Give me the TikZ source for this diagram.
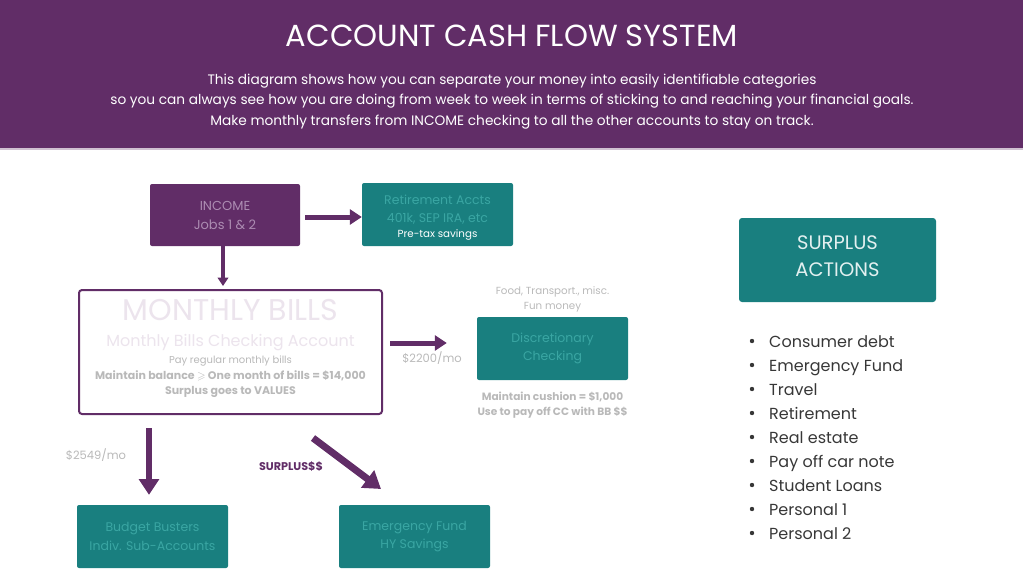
\documentclass[tikz,border=0pt]{standalone}
\usepackage{fontspec}
\setmainfont{Poppins}
\usepackage{amssymb}
\usetikzlibrary{positioning,arrows.meta}
\definecolor{plum}{RGB}{97,45,103}
\definecolor{plumtext}{RGB}{172,140,178}
\definecolor{tealbox}{RGB}{25,127,127}
\definecolor{tealtext}{RGB}{58,166,163}
\definecolor{paletext}{RGB}{236,228,237}
\definecolor{greytext}{RGB}{185,185,185}
\definecolor{listtext}{RGB}{55,55,55}
\newcommand{\fsz}[2]{\fontsize{#1}{#2}\selectfont}

\begin{document}
\begin{tikzpicture}[x=1pt, y=-1pt,
    purplebox/.style={fill=plum, rounded corners=2pt, minimum width=150pt, minimum height=62pt, align=center, text=plumtext, font=\fsz{13}{19}},
    tealacct/.style={fill=tealbox, rounded corners=2pt, minimum width=151pt, minimum height=63pt, align=center, text=tealtext, font=\fsz{12.5}{18.5}},
    note/.style={text=greytext, align=center, font=\fsz{10.3}{15.5}},
    flow/.style={draw=plum, line width=#1, -{Triangle[length=2.4*#1, width=3*#1]}},
    flow/.default=5pt]
  % page and header
  \useasboundingbox (0,0) rectangle (1023,576);
  \fill[plum] (0,0) rectangle (1023,148);
  \fill[plum!30] (0,148) rectangle (1023,150);
  \node[text=white, font=\fsz{30.5}{32}] (title) at (512,36) {ACCOUNT CASH FLOW SYSTEM};
  \node[text=white, align=center, font=\fsz{13.7}{20.5}] (intro) at (512,101.5)
    {This diagram shows how you can separate your money into easily identifiable categories\\
     so you can always see how you are doing from week to week in terms of sticking to and reaching your financial goals.\\
     Make monthly transfers from INCOME checking to all the other accounts to stay on track.};

  % accounts
  \node[purplebox] (income) at (225,215) {INCOME\\Jobs 1 \& 2};
  \node[tealacct] (retire) at (437.5,214.5) {};
  \node[align=center, text=tealtext, font=\fsz{12.5}{18.5}] (retiretext) at (437.5,217.5)
    {Retirement Accts\\401k, SEP IRA, etc\\[-4pt]{\fsz{10.3}{12}\color{white}Pre-tax savings}};
  \node[draw=plum, line width=2pt, fill=white, rounded corners=3pt, minimum width=303pt, minimum height=124pt] (bills) at (230.5,352) {};
  \node[text=paletext, font=\fsz{30}{32}] (billstitle) at (230.5,310) {MONTHLY BILLS};
  \node[text=paletext, font=\fsz{16}{18}] (billssub) at (230.5,343) {Monthly Bills Checking Account};
  \node[note, below=-2pt of billssub] (billsnote)
    {\fsz{10}{15}Pay regular monthly bills\\
     \textbf{\fsz{11}{15}Maintain balance $\geqslant$ One month of bills = \$14,000}\\
     \textbf{\fsz{11}{15}Surplus goes to VALUES}};
  \node[tealacct] (disc) at (552.5,348.5) {Discretionary\\Checking};
  \node[note, above=1pt of disc] (discabove) {Food, Transport., misc.\\Fun money};
  \node[note, below=8pt of disc, font=\bfseries\fsz{10.6}{15}] (discbelow) {Maintain cushion = \$1,000\\Use to pay off CC with BB \$\$};
  \node[tealacct] (busters) at (152.5,536.5) {Budget Busters\\Indiv. Sub-Accounts};
  \node[tealacct] (emerg) at (414.5,536.5) {Emergency Fund\\HY Savings};

  % transfers
  \draw[flow] (income.east) ++(5,2) coordinate (inc-out) -- (inc-out -| retire.west);
  \draw[flow=3.5pt, shorten >=3pt] (income.south -| 223,0) -- (bills.north -| 223,0);
  \draw[flow, shorten <=7pt, shorten >=30pt] (bills.east |- 0,343) -- (disc.west |- 0,343);
  \node[note, font=\fsz{11.5}{14}] (disclabel) at (432,358) {\$2200/mo};
  \draw[flow=6.5pt, shorten <=13pt, shorten >=10pt] (bills.south -| 149,0) -- (busters.north -| 149,0);
  \node[note, font=\fsz{11.5}{14}] (busterlabel) at (96,455) {\$2549/mo};
  \coordinate (surp-from) at (313,438);
  \coordinate (surp-to) at (381,489);
  \draw[flow=7pt] (surp-from) -- (surp-to);
  \node[text=plum, font=\bfseries\fsz{11.2}{14}] (surplabel) at (291,467) {SURPLUS\$\$};

  % surplus actions
  \node[fill=tealbox, rounded corners=3pt, minimum width=197pt, minimum height=84pt] (actions) at (837.5,260) {};
  \node[align=center, text=white!88!tealbox, font=\fsz{19.5}{27}] (actionstext) at (837.5,256) {SURPLUS\\ACTIONS};
  \foreach \act [count=\i] in {Consumer debt, Emergency Fund, Travel, Retirement, Real estate, Pay off car note, Student Loans, Personal 1, Personal 2}{
    \fill[listtext] (752,{341+24*(\i-1)}) circle (2.2pt);
    \node[anchor=base west, inner sep=0pt, text=listtext, font=\fsz{16}{18}] (act\i) at (769,{347+24*(\i-1)}) {\act};
  }
\end{tikzpicture}
\end{document}
